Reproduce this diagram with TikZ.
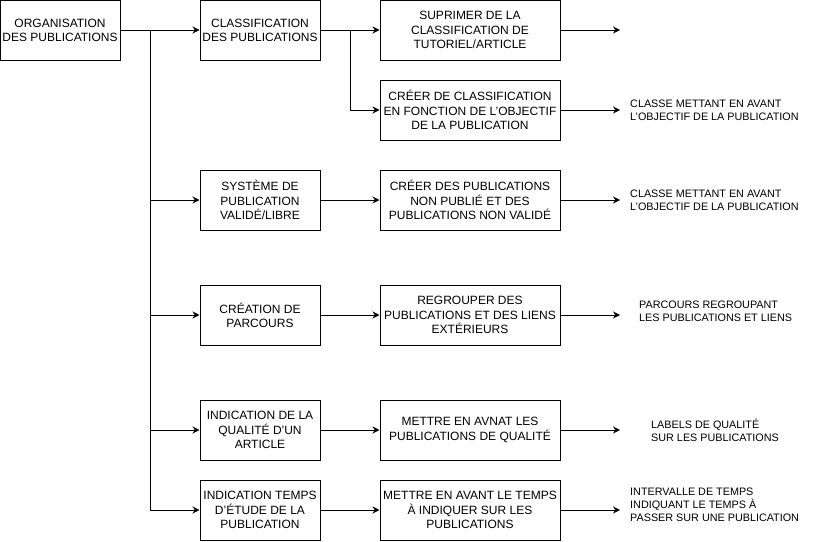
\documentclass[tikz,border=0pt]{standalone}
\usepackage{fontspec}
\setmainfont{Liberation Sans}
\usetikzlibrary{arrows.meta}
\tikzset{
  box/.style={draw, line width=1pt, minimum width=120pt, minimum height=60pt,
    align=center, inner sep=1pt, font=\fontsize{12}{14.2}\selectfont},
  widebox/.style={box, minimum width=180pt},
  result/.style={anchor=west, align=left, inner sep=0pt,
    font=\fontsize{10.8}{13.2}\selectfont},
  link/.style={line width=1pt, -{Stealth[length=7pt,width=7pt]}}
}
\begin{document}
\begin{tikzpicture}[x=1pt, y=-1pt]
  \useasboundingbox (0,0) rectangle (816,541);
  % first and second column
  \node[box] (orga) at (60,30) {ORGANISATION\\DES PUBLICATIONS};
  \node[box] (classif) at (260,30) {CLASSIFICATION\\DES PUBLICATIONS};
  \node[box] (systeme) at (260,200) {SYSTÈME DE\\PUBLICATION\\VALIDÉ/LIBRE};
  \node[box] (parcours) at (260,315) {CRÉATION DE\\PARCOURS};
  \node[box] (qualite) at (260,430) {INDICATION DE LA\\QUALITÉ D'UN\\ARTICLE};
  \node[box] (temps) at (260,510) {INDICATION TEMPS\\D'ÉTUDE DE LA\\PUBLICATION};
  % third column
  \node[widebox] (suppr) at (470,30) {SUPRIMER DE LA\\CLASSIFICATION DE\\TUTORIEL/ARTICLE};
  \node[widebox] (objectif) at (470,110) {CRÉER DE CLASSIFICATION\\EN FONCTION DE L'OBJECTIF\\DE LA PUBLICATION};
  \node[widebox] (nonvalide) at (470,200) {CRÉER DES PUBLICATIONS\\NON PUBLIÉ ET DES\\PUBLICATIONS NON VALIDÉ};
  \node[widebox] (regrouper) at (470,315) {REGROUPER DES\\PUBLICATIONS ET DES LIENS\\EXTÉRIEURS};
  \node[widebox] (avnat) at (470,430) {METTRE EN AVNAT LES\\PUBLICATIONS DE QUALITÉ};
  \node[widebox] (avant) at (470,510) {METTRE EN AVANT LE TEMPS\\À INDIQUER SUR LES\\PUBLICATIONS};
  % results
  \node[result] (res1) at (630,110) {CLASSE METTANT EN AVANT\\L'OBJECTIF DE LA PUBLICATION};
  \node[result] (res2) at (630,200) {CLASSE METTANT EN AVANT\\L'OBJECTIF DE LA PUBLICATION};
  \node[result] (res3) at (639,311) {PARCOURS REGROUPANT\\LES PUBLICATIONS ET LIENS};
  \node[result] (res4) at (651,430) {LABELS DE QUALITÉ\\SUR LES PUBLICATIONS};
  \node[result] (res5) at (630,505) {INTERVALLE DE TEMPS\\INDIQUANT LE TEMPS À\\PASSER SUR UNE PUBLICATION};
  \coordinate (fin) at (620,30);
  \coordinate (tronc) at (150,30);
  \coordinate (fourche) at (350,30);

  % trunk
  \draw[link] (orga) -- (classif);
  \draw[line width=1pt] (tronc) -- (tronc |- temps);
  \foreach \n in {systeme,parcours,qualite,temps}
    \draw[link] (tronc |- \n) -- (\n);
  % classification
  \draw[link] (classif) -- (suppr);
  \draw[link] (fourche) |- (objectif);
  % rows
  \draw[link] (systeme) -- (nonvalide);
  \draw[link] (parcours) -- (regrouper);
  \draw[link] (qualite) -- (avnat);
  \draw[link] (temps) -- (avant);
  \foreach \n in {suppr,objectif,nonvalide,regrouper,avnat,avant}
    \draw[link] (\n) -- (\n -| fin);
\end{tikzpicture}
\end{document}
